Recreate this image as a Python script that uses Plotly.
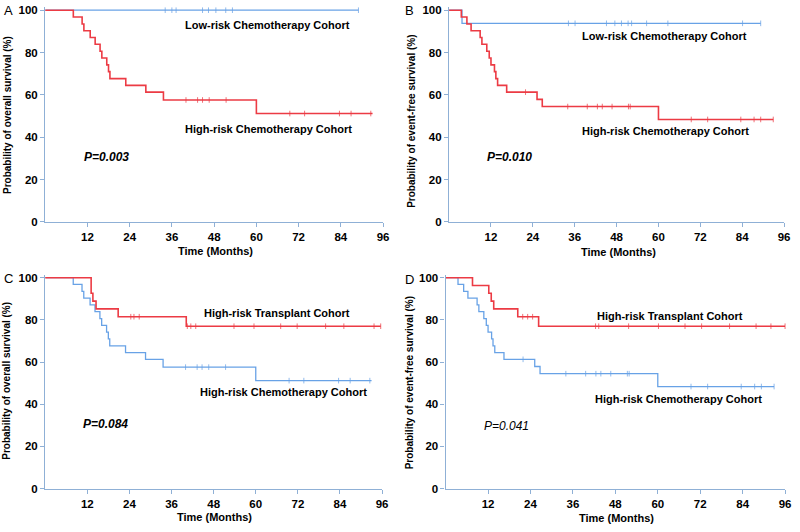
import plotly.graph_objects as go

# ---------------- data ----------------
# Panel A: overall survival
a_low_times = []
a_low_levels = []
a_low_end = 89.0
a_low_censor = [34.1, 36.0, 37.2, 44.7, 46.4, 48.5, 51.3, 53.2, 89.0]

a_high_times = [8.0, 10.5, 11.0, 12.8, 14.2, 15.6, 16.1, 17.5, 18.0, 18.4, 22.9, 28.6, 33.6, 60.0]
a_high_levels = [96.8, 93.5, 90.3, 87.1, 83.9, 80.6, 77.4, 74.2, 71.0, 67.7, 64.5, 61.3, 57.6, 51.2]
a_high_end = 93.0
a_high_censor = [40.0, 43.3, 44.7, 46.6, 51.4, 69.5, 73.7, 83.6, 86.9, 92.5]

# Panel B: event-free survival
b_low_times = [3.7]
b_low_levels = [93.8]
b_low_end = 89.3
b_low_censor = [34.2, 36.1, 45.1, 47.5, 49.4, 51.3, 52.3, 56.6, 62.7, 84.1, 89.3]

b_high_times = [3.5, 5.1, 6.3, 8.9, 9.4, 10.8, 11.5, 12.0, 13.0, 13.4, 13.9, 16.5, 25.2, 26.7, 60.0]
b_high_levels = [96.8, 93.5, 90.3, 87.1, 83.9, 80.6, 77.4, 74.2, 71.0, 67.7, 64.5, 61.3, 57.9, 54.5, 48.4]
b_high_end = 92.9
b_high_censor = [21.9, 34.0, 39.6, 42.5, 43.9, 46.7, 51.4, 51.9, 69.4, 74.1, 83.6, 87.4, 89.3, 92.9]

# Panel C: transplant overall survival
c_tx_times = [13.1, 13.6, 14.5, 20.8, 40.2]
c_tx_levels = [92.6, 88.9, 85.2, 81.5, 77.0]
c_tx_end = 95.6
c_tx_censor = [24.4, 25.3, 26.8, 40.5, 41.5, 42.9, 53.8, 59.5, 67.1, 71.8, 79.9, 85.1, 93.7, 95.6]

# Panel D: transplant event-free survival
d_tx_times = [7.6, 12.2, 12.9, 13.6, 20.4, 26.3]
d_tx_levels = [96.3, 92.6, 88.9, 85.2, 81.5, 77.0]
d_tx_end = 96.0
d_tx_censor = [21.8, 23.2, 24.6, 42.4, 43.3, 51.75, 60.2, 67.7, 72.4, 80.3, 87.8, 92.0, 96.0]

x_ticks = [12, 24, 36, 48, 60, 72, 84, 96]
y_ticks = [0, 20, 40, 60, 80, 100]

panel_labels = ["A", "B", "C", "D"]
p_values = ["P=0.003", "P=0.010", "P=0.084", "P=0.041"]
os_title = "Probability of overall survival (%)"
efs_title = "Probability of event-free survival (%)"
x_title = "Time (Months)"

# ---------------- styling ----------------
W, H = 800, 532
RED = "#ec3b44"
BLUE = "#68a2e6"
AXIS = "#8fb0d6"
FONT = "Liberation Sans"


def px(x):
    return x / W


def py(y):
    return 1 - y / H


def step_xy(times, levels, end):
    xs = [0.0] + list(times) + [end]
    ys = [100.0] + list(levels) + [levels[-1] if levels else 100.0]
    return xs, ys


def surv_at(t, times, levels):
    s = 100.0
    for ti, li in zip(times, levels):
        if t >= ti:
            s = li
    return s


fig = go.Figure()


def add_curve(times, levels, end, censor, color, width, ax):
    xs, ys = step_xy(times, levels, end)
    fig.add_trace(go.Scatter(x=xs, y=ys, mode="lines", line=dict(color=color, width=width, shape="hv"),
                             xaxis="x" + ax, yaxis="y" + ax, showlegend=False, hoverinfo="skip"))
    cy = [surv_at(t, times, levels) for t in censor]
    fig.add_trace(go.Scatter(x=censor, y=cy, mode="markers",
                             marker=dict(symbol="line-ns-open", size=4, color=color,
                                         line=dict(color=color, width=0.9)),
                             opacity=0.8,
                             xaxis="x" + ax, yaxis="y" + ax, showlegend=False, hoverinfo="skip",
                             cliponaxis=False))


# axis suffixes ("" for first)
add_curve(a_low_times, a_low_levels, a_low_end, a_low_censor, BLUE, 1.3, "")
add_curve(a_high_times, a_high_levels, a_high_end, a_high_censor, RED, 1.6, "")
add_curve(b_low_times, b_low_levels, b_low_end, b_low_censor, BLUE, 1.3, "2")
add_curve(b_high_times, b_high_levels, b_high_end, b_high_censor, RED, 1.6, "2")
add_curve(a_high_times, a_high_levels, a_high_end, a_high_censor, BLUE, 1.3, "3")
add_curve(c_tx_times, c_tx_levels, c_tx_end, c_tx_censor, RED, 1.6, "3")
add_curve(b_high_times, b_high_levels, b_high_end, b_high_censor, BLUE, 1.3, "4")
add_curve(d_tx_times, d_tx_levels, d_tx_end, d_tx_censor, RED, 1.6, "4")

tickfont = dict(family=FONT, size=11.5, color="black", weight="bold")


def xax(domain, anchor):
    return dict(domain=domain, anchor=anchor, range=[0, 96], tickvals=x_ticks, showline=True,
                linecolor=AXIS, linewidth=1.3, ticks="outside", ticklen=4, tickcolor=AXIS,
                showgrid=False, zeroline=False, tickfont=tickfont, fixedrange=True,
                ticklabeloverflow="allow")


def yax(domain, anchor):
    return dict(domain=domain, anchor=anchor, range=[0, 101.5], tickvals=y_ticks, showline=True,
                linecolor=AXIS, linewidth=1.3, ticks="outside", ticklen=4, tickcolor=AXIS,
                showgrid=False, zeroline=False, tickfont=tickfont, fixedrange=True,
                ticklabeloverflow="allow")


top_dom = [py(222.7), py(4.1)]
bot_dom = [py(494), py(276.2)]

fig.update_layout(
    width=W, height=H, margin=dict(l=0, r=0, t=0, b=0),
    paper_bgcolor="white", plot_bgcolor="white",
    xaxis=xax([px(45.5), px(386)], "y"), yaxis=yax(top_dom, "x"),
    xaxis2=xax([px(452.5), px(790)], "y2"), yaxis2=yax(top_dom, "x2"),
    xaxis3=xax([px(45.5), px(385)], "y3"), yaxis3=yax(bot_dom, "x3"),
    xaxis4=xax([px(449), px(791)], "y4"), yaxis4=yax(bot_dom, "x4"),
)

ann = []


def text(x, y, s, size=11, weight="bold", style="normal", angle=0):
    ann.append(dict(x=px(x), y=py(y), xref="paper", yref="paper", text=s, showarrow=False,
                    xanchor="center", yanchor="middle", textangle=angle,
                    font=dict(family=FONT, size=size, color="black", weight=weight, style=style)))


# panel labels
for lab, (x, y) in zip(panel_labels, [(8.3, 7.5), (413, 7.7), (8.3, 280), (413, 281)]):
    text(x, y, lab, size=13, weight="normal")

# cohort labels
text(270, 22.7, "Low-risk Chemotherapy Cohort")
text(271, 127.7, "High-risk Chemotherapy Cohort")
text(670, 33.3, "Low-risk Chemotherapy Cohort")
text(670.5, 130.7, "High-risk Chemotherapy Cohort")
text(278.8, 315.3, "High-risk Transplant Cohort")
text(285.8, 395.3, "High-risk Chemotherapy Cohort")
text(675.3, 318.7, "High-risk Transplant Cohort")
text(683.3, 402.7, "High-risk Chemotherapy Cohort")

# p-values
text(107, 157, p_values[0], size=12, style="italic")
text(513.7, 156.7, p_values[1], size=12, style="italic")
text(106.3, 428.3, p_values[2], size=12, style="italic")
text(510, 430.3, p_values[3], size=12, weight="normal", style="italic")

# axis titles
text(216.7, 252.7, x_title, size=11)
text(623, 253.3, x_title, size=11)
text(215.8, 523.3, x_title, size=11)
text(620.8, 523.8, x_title, size=11)
text(7, 114, os_title, size=10, angle=-90)
text(415, 120, efs_title, size=10, angle=-90)
text(7, 384.3, os_title, size=10, angle=-90)
text(413, 386, efs_title, size=10, angle=-90)

fig.update_layout(annotations=ann)
fig.write_html("out.html", config={"displayModeBar": False},
               post_script="document.body.style.margin='0';document.body.style.overflow='hidden';")
